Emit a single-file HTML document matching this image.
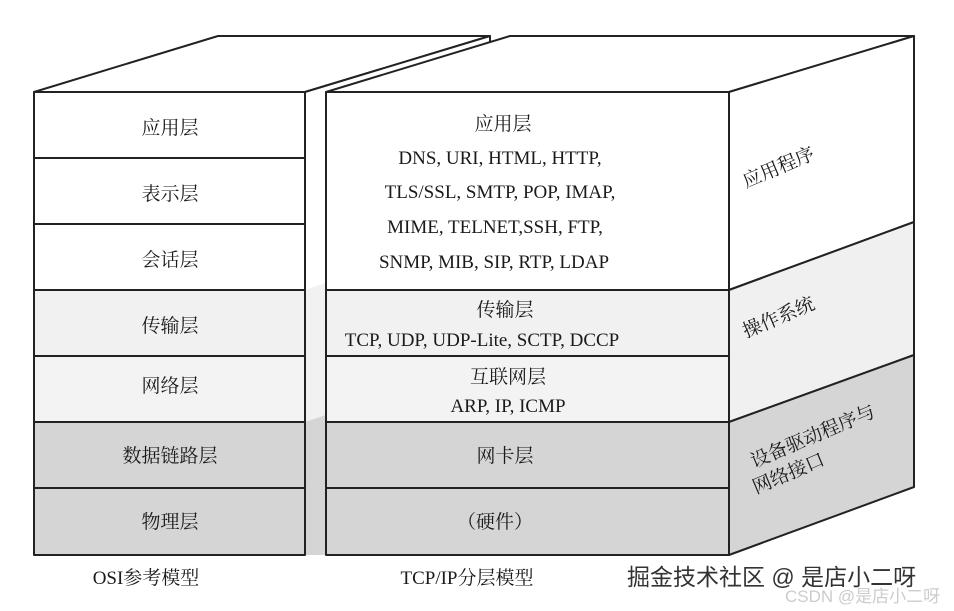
<!DOCTYPE html>
<html><head><meta charset="utf-8"><style>
body{margin:0;background:#fff;}
svg{display:block;}
text{font-family:"Liberation Serif","Noto Serif CJK SC",serif;fill:#1a1a1a;}
</style></head><body>
<svg width="954" height="611" viewBox="0 0 954 611" xmlns="http://www.w3.org/2000/svg">
<g stroke="#222" stroke-width="2" stroke-linejoin="round">
<polygon points="34,92 218,36 490,36 305,92" fill="#fff"/>
<polygon points="305,92 490,36 490,300 305,356" fill="#fff"/>
<polygon points="305,290 326,283 326,356 305,356" fill="#f1f1f1" stroke="none"/>
<polygon points="305,356 326,349 326,422 305,422" fill="#f1f1f1" stroke="none"/>
<polygon points="305,422 326,415 326,555 305,555" fill="#d5d5d5" stroke="none"/>
<rect x="34" y="92" width="271" height="66" fill="#fff"/>
<rect x="34" y="158" width="271" height="66" fill="#fff"/>
<rect x="34" y="224" width="271" height="66" fill="#fff"/>
<rect x="34" y="290" width="271" height="66" fill="#f1f1f1"/>
<rect x="34" y="356" width="271" height="66" fill="#f3f3f3"/>
<rect x="34" y="422" width="271" height="66" fill="#d5d5d5"/>
<rect x="34" y="488" width="271" height="67" fill="#d5d5d5"/>
<polygon points="326,92 510,36 914,36 729,92" fill="#fff"/>
<polygon points="729,92 914,36 914,222 729,290" fill="#fff"/>
<polygon points="729,290 914,222 914,355 729,422" fill="#f0f0f0"/>
<polygon points="729,422 914,355 914,487 729,555" fill="#d5d5d5"/>
<rect x="326" y="92" width="403" height="198" fill="#fff"/>
<rect x="326" y="290" width="403" height="66" fill="#f1f1f1"/>
<rect x="326" y="356" width="403" height="66" fill="#f3f3f3"/>
<rect x="326" y="422" width="403" height="66" fill="#d5d5d5"/>
<rect x="326" y="488" width="403" height="67" fill="#d5d5d5"/>
</g>
<g font-size="19" text-anchor="middle">
<text x="170" y="134">应用层</text>
<text x="170" y="200">表示层</text>
<text x="170" y="266">会话层</text>
<text x="170" y="332">传输层</text>
<text x="170" y="392">网络层</text>
<text x="170" y="462">数据链路层</text>
<text x="170" y="528">物理层</text>
<text x="503" y="130">应用层</text>
<text x="500" y="164">DNS, URI, HTML, HTTP,</text>
<text x="500" y="198">TLS/SSL, SMTP, POP, IMAP,</text>
<text x="495" y="233">MIME, TELNET,SSH, FTP,</text>
<text x="494" y="268">SNMP, MIB, SIP, RTP, LDAP</text>
<text x="505" y="316">传输层</text>
<text x="482" y="346">TCP, UDP, UDP-Lite, SCTP, DCCP</text>
<text x="508" y="383">互联网层</text>
<text x="508" y="412">ARP, IP, ICMP</text>
<text x="505" y="462">网卡层</text>
<text x="495" y="528">（硬件）</text>
<text x="146" y="584">OSI参考模型</text>
<text x="467" y="584">TCP/IP分层模型</text>
</g>
<g font-size="19">
<text transform="translate(746,188) rotate(-23)">应用程序</text>
<text transform="translate(746,338) rotate(-23)">操作系统</text>
<text transform="translate(754,468) rotate(-23)">设备驱动程序与</text>
<text transform="translate(756,494) rotate(-23)">网络接口</text>
</g>
<text x="627" y="585" font-size="23" style="font-family:'Liberation Sans','Noto Sans CJK SC',sans-serif;fill:#333">掘金技术社区 @ 是店小二呀</text>
<text x="785" y="602" font-size="17" style="font-family:'Liberation Sans','Noto Sans CJK SC',sans-serif;fill:#ccc">CSDN @是店小二呀</text>
</svg>
</body></html>
